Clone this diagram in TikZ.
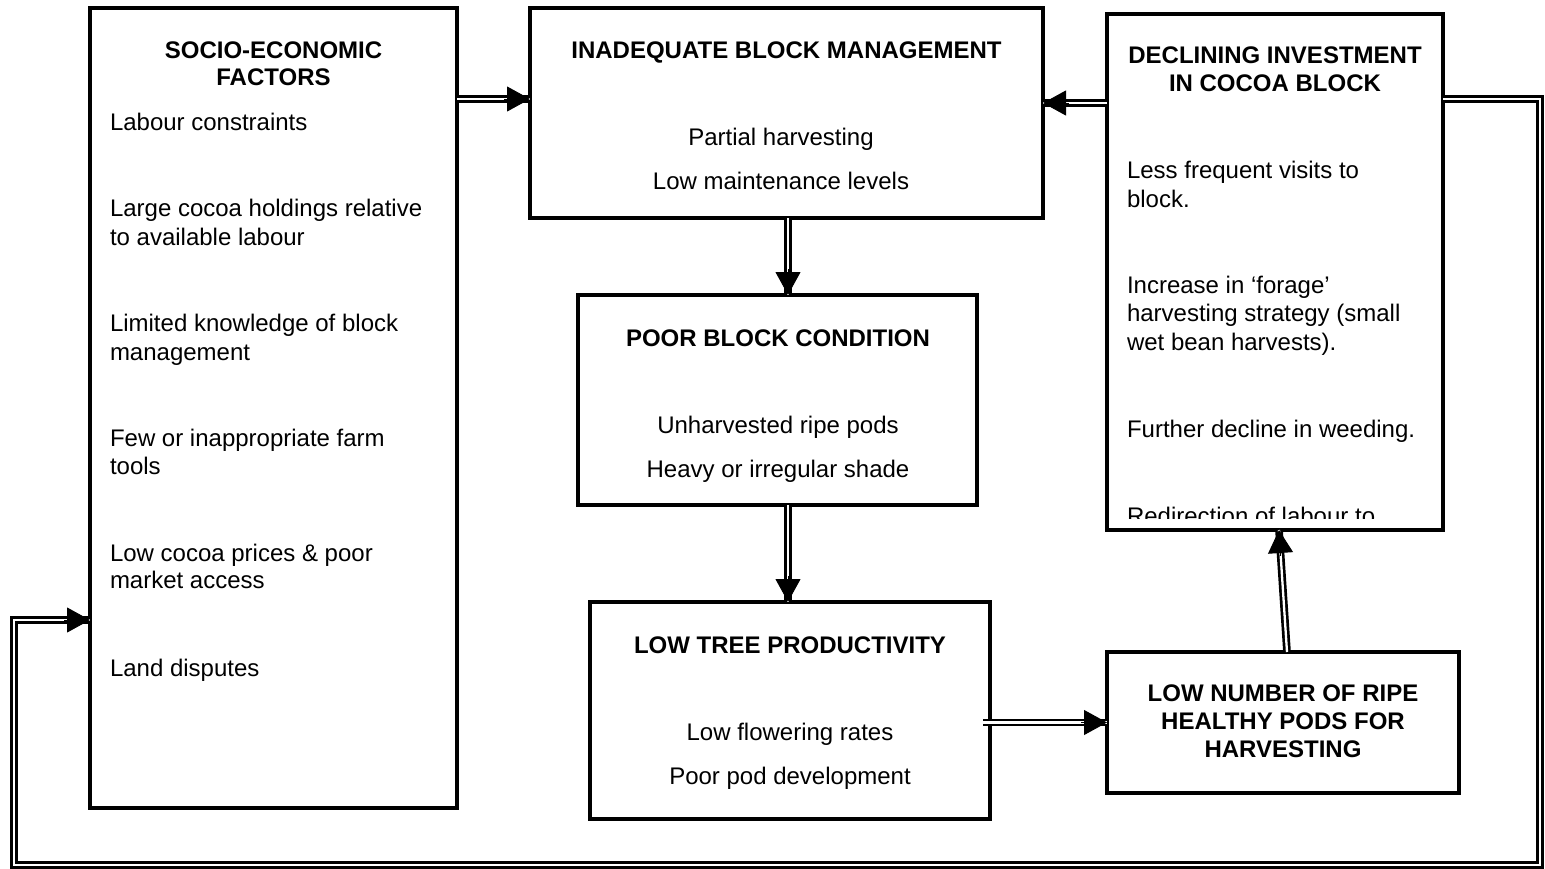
\documentclass[tikz,border=0pt]{standalone}
\usepackage{fontspec}
\setmainfont{Liberation Sans}
\usetikzlibrary{arrows.meta,calc}
\newcommand\dblarrow[2]{%
  \draw[dbl] (#1) -- (#2);
  \draw[-{Triangle[length=23pt,width=25pt]}, line width=1pt] ($(#2)!26pt!(#1)$) -- (#2);}
\tikzset{
  box/.style={draw, line width=4pt, inner sep=0pt, outer sep=0pt},
  dbl/.style={double, line width=2.7pt, double distance=2.3pt},
  txt/.style={font=\fontsize{24}{28}\selectfont, inner sep=0pt, outer sep=0pt},
  btxt/.style={txt, font=\fontsize{24}{28}\selectfont\bfseries},
  lt/.style={txt, anchor=base west},
  ct/.style={txt, anchor=base},
  bt/.style={btxt, anchor=base}
}
\begin{document}
\begin{tikzpicture}[x=1pt,y=-1pt]
\useasboundingbox (0,0) rectangle (1545,868);
% boxes
\node[box, minimum width=367pt, minimum height=800pt] (socio) at (273.5,408) {};
\node[box, minimum width=513pt, minimum height=210pt] (inad) at (786.5,113) {};
\node[box, minimum width=399pt, minimum height=210pt] (poor) at (777.5,400) {};
\node[box, minimum width=400pt, minimum height=217pt] (tree) at (790,710.5) {};
\node[box, minimum width=352pt, minimum height=141pt] (pods) at (1283,722.5) {};
\node[box, minimum width=336pt, minimum height=516pt] (decl) at (1275,272) {};
% socio text
\node[bt] (s1) at (273.5,58) {SOCIO-ECONOMIC};
\node[bt] (s2) at (273.5,85) {FACTORS};
\node[lt] (s3) at (110,130) {Labour constraints};
\node[lt] (s4) at (110,216) {Large cocoa holdings relative};
\node[lt] (s5) at (110,245) {to available labour};
\node[lt] (s6) at (110,331) {Limited knowledge of block};
\node[lt] (s7) at (110,360) {management};
\node[lt] (s8) at (110,446) {Few or inappropriate farm};
\node[lt] (s9) at (110,474) {tools};
\node[lt] (s10) at (110,561) {Low cocoa prices \& poor};
\node[lt] (s11) at (110,588) {market access};
\node[lt] (s12) at (110,676) {Land disputes};
% inadequate
\node[bt] (i1) at (786.5,58) {INADEQUATE BLOCK MANAGEMENT};
\node[ct] (i2) at (781,145) {Partial harvesting};
\node[ct] (i3) at (781,189) {Low maintenance levels};
% poor
\node[bt] (p1) at (778,346) {POOR BLOCK CONDITION};
\node[ct] (p2) at (778,433) {Unharvested ripe pods};
\node[ct] (p3) at (778,477) {Heavy or irregular shade};
% tree
\node[bt] (t1) at (790,653) {LOW TREE PRODUCTIVITY};
\node[ct] (t2) at (790,740) {Low flowering rates};
\node[ct] (t3) at (790,784) {Poor pod development};
% pods
\node[bt] (h1) at (1283,701) {LOW NUMBER OF RIPE};
\node[bt] (h2) at (1283,729) {HEALTHY PODS FOR};
\node[bt] (h3) at (1283,757) {HARVESTING};
% declining
\node[bt] (d1) at (1275,63) {DECLINING INVESTMENT};
\node[bt] (d2) at (1275,91) {IN COCOA BLOCK};
\node[lt] (d3) at (1127,178) {Less frequent visits to};
\node[lt] (d4) at (1127,207) {block.};
\node[lt] (d5) at (1127,293) {Increase in ‘forage’};
\node[lt] (d6) at (1127,321) {harvesting strategy (small};
\node[lt] (d7) at (1127,350) {wet bean harvests).};
\node[lt] (d8) at (1127,437) {Further decline in weeding.};
\begin{scope}
\clip (1110,490) rectangle (1440,518);
\node[lt] (d9) at (1127,524) {Redirection of labour to};
\end{scope}
% connector coordinates
\path ([yshift=14pt]inad.west) coordinate (a1);
\path (socio.east |- a1) coordinate (a0);
\path ([yshift=169pt]decl.west) coordinate (b0);
\path (inad.east |- b0) coordinate (b1);
\path ([xshift=1.5pt]inad.south) coordinate (c0);
\path (poor.north -| c0) coordinate (c1);
\path ([xshift=10.5pt]poor.south) coordinate (e0);
\path (tree.north -| e0) coordinate (e1);
\path ([xshift=-124pt]pods.west) coordinate (f0);
\path ([xshift=4pt]pods.north) coordinate (g0);
\path ([xshift=4pt]decl.south) coordinate (g1);
\path ([yshift=173pt]decl.east) coordinate (l0);
\coordinate (l1) at (1540,99);
\coordinate (l2) at (1540,865);
\coordinate (l3) at (14,865);
\coordinate (l4) at (14,620);
\path (socio.west |- l4) coordinate (l5);
% connectors
\dblarrow{a0}{a1}
\dblarrow{b0}{b1}
\dblarrow{c0}{c1}
\dblarrow{e0}{e1}
\dblarrow{f0}{pods.west}
\dblarrow{g0}{g1}
\draw[dbl] (l0) -- (l1) -- (l2) -- (l3) -- (l4) -- (l5);
\draw[-{Triangle[length=23pt,width=25pt]}, line width=1pt] ($(l5)!26pt!(l4)$) -- (l5);
\end{tikzpicture}
\end{document}
